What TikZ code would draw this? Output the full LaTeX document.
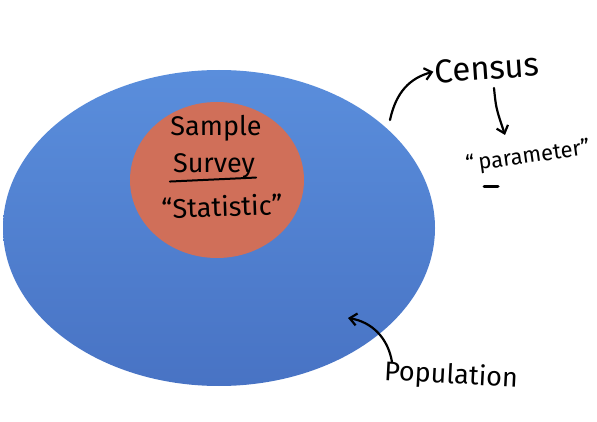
\documentclass[tikz,border=0pt]{standalone}
\usepackage{fontspec}
\setmainfont{Fira Sans}
\usetikzlibrary{shapes.geometric,arrows.meta}
\definecolor{popblue}{HTML}{5A8EDC}
\definecolor{popblued}{HTML}{4873C4}
\definecolor{samporange}{HTML}{D06F59}
\tikzset{
  hand/.style={line width=2.2pt, line cap=round, line join=round, -{Straight Barb[length=7pt,width=12pt,line width=2.2pt]}},
  script/.style={font=\fontsize{27}{29}\selectfont, inner sep=1pt}
}
\begin{document}
\begin{tikzpicture}[x=1pt,y=-1pt]
\useasboundingbox (0,0) rectangle (597,422);
\node (pop) [ellipse, minimum width=432pt, minimum height=316pt, top color=popblue, bottom color=popblued, draw=none] at (219,228) {};
\node (samp) [ellipse, minimum width=174pt, minimum height=156pt, fill=samporange, draw=none] at (217,180) {};
\node (sample) [script] at (216,128) {Sample};
\node (survey) [script] at (214,166) {Survey};
\draw[line width=2pt, line cap=round] ([xshift=-2pt,yshift=-2pt]survey.south west) -- ([yshift=2pt]survey.south east);
\node (stat) [script, rotate=2] at (222,206) {``Statistic''};
\node (census) [script, font=\fontsize{33}{35}\selectfont, rotate=4] at (487,68) {Census};
\node (param) [script, font=\fontsize{22}{24}\selectfont, rotate=8] at (528,157) {``\,parameter''};
\coordinate (pu) at (484,187);
\draw[line width=3pt, line cap=round] (pu) -- ++(14,0);
\node (popl) [script, font=\fontsize{27}{29}\selectfont, rotate=-3] at (451,376) {Population};
\coordinate (c1) at (390,120);
\draw[hand] (c1) .. controls (396,92) and (410,78) .. (census.west);
\coordinate (cd) at (494,88);
\draw[hand] (cd) .. controls (496,108) .. (505,135);
\coordinate (p1) at (348,318);
\coordinate (p0) at (392,362);
\draw[hand] (p0) .. controls (388,338) and (372,322) .. (p1);
\end{tikzpicture}
\end{document}
